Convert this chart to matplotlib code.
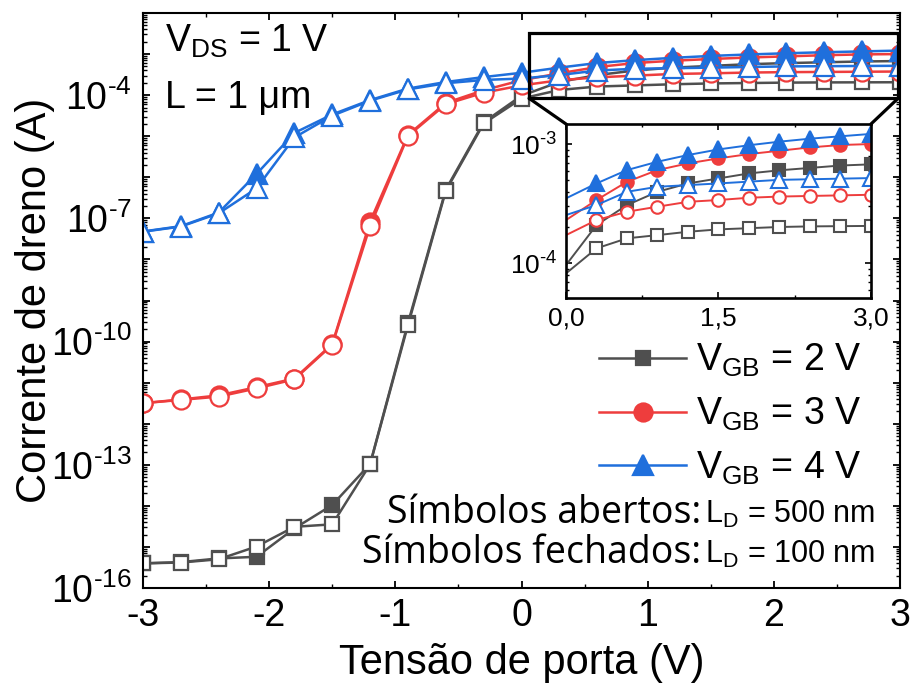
"""Curvas de transferência Id x Vg para três tensões de back-gate."""
import numpy as np
import matplotlib
matplotlib.use('Agg')
import matplotlib.pyplot as plt
import matplotlib.ticker as mticker
from matplotlib import font_manager
from matplotlib.patches import Rectangle, ConnectionPatch

# dados (log10 da corrente de dreno, A)
vg = [-3.0, -2.7, -2.4, -2.1, -1.8, -1.5, -1.2, -0.9, -0.6, -0.3, 0.0,
      0.3, 0.6, 0.9, 1.2, 1.5, 1.8, 2.1, 2.4, 2.7, 3.0]

log_id_vgb2_ld500 = [-15.40, -15.38, -15.30, -14.99, -14.51, -14.45, -12.99,
                     -9.60, -6.33, -4.69, -4.084, -3.874, -3.79, -3.763,
                     -3.735, -3.715, -3.705, -3.695, -3.69, -3.688, -3.686]
log_id_vgb2_ld100 = [-15.40, -15.37, -15.28, -15.24, -14.55, -13.98, -12.98,
                     -9.55, -6.30, -4.66, -4.014, -3.679, -3.511, -3.40,
                     -3.33, -3.288, -3.246, -3.22, -3.20, -3.18, -3.17]
log_id_vgb3_ld500 = [-11.50, -11.42, -11.34, -11.14, -10.92, -10.08, -7.19,
                     -4.995, -4.22, -3.94, -3.763, -3.637, -3.567, -3.525,
                     -3.484, -3.469, -3.45, -3.44, -3.435, -3.43, -3.425]
log_id_vgb3_ld100 = [-11.50, -11.41, -11.31, -11.11, -10.90, -10.06, -7.08,
                     -4.97, -4.19, -3.88, -3.637, -3.469, -3.316, -3.218,
                     -3.162, -3.12, -3.084, -3.056, -3.028, -3.008, -3.0]
log_id_vgb4_ld500 = [-7.325, -7.20, -6.877, -6.27, -5.03, -4.50, -4.135,
                     -3.86, -3.71, -3.63, -3.595, -3.511, -3.40, -3.358,
                     -3.344, -3.33, -3.315, -3.30, -3.295, -3.29, -3.285]
log_id_vgb4_ld100 = [-7.32, -7.19, -6.86, -5.92, -4.92, -4.47, -4.12,
                     -3.84, -3.68, -3.56, -3.455, -3.33, -3.218, -3.148,
                     -3.092, -3.045, -3.01, -2.98, -2.955, -2.935, -2.915]

legend_labels = [r'V$_{\mathrm{GB}}$ = 2 V', r'V$_{\mathrm{GB}}$ = 3 V',
                 r'V$_{\mathrm{GB}}$ = 4 V']

C_GRAY = '#4f4f4f'
C_RED = '#ee3d3d'
C_BLUE = '#1f6fdc'

names = {f.name for f in font_manager.fontManager.ttflist}
NARROW = 'Liberation Sans Narrow' if 'Liberation Sans Narrow' in names else 'Liberation Sans'

plt.rcParams['font.family'] = ['Liberation Sans', 'DejaVu Sans']
plt.rcParams['mathtext.fontset'] = 'custom'
plt.rcParams['mathtext.rm'] = 'Liberation Sans'
plt.rcParams['mathtext.it'] = 'Liberation Sans:italic'
plt.rcParams['mathtext.bf'] = 'Liberation Sans:bold'
plt.rcParams['mathtext.sf'] = NARROW
plt.rcParams['axes.unicode_minus'] = False

HY = '\u2010'  # hífen curto nos expoentes, como no original


def pow_label(e, sf=False):
    s = '10^{%s%d}' % (HY, abs(e)) if e < 0 else '10^{%d}' % e
    return r'$\mathsf{%s}$' % s if sf else r'$%s$' % s


x = np.array(vg)
series = [
    (log_id_vgb2_ld100, C_GRAY, 's', True),
    (log_id_vgb3_ld100, C_RED, 'o', True),
    (log_id_vgb4_ld100, C_BLUE, '^', True),
    (log_id_vgb2_ld500, C_GRAY, 's', False),
    (log_id_vgb3_ld500, C_RED, 'o', False),
    (log_id_vgb4_ld500, C_BLUE, '^', False),
]
msize_main = {'s': 10, 'o': 13, '^': 14}
msize_in = {'s': 8, 'o': 9, '^': 11}

fig = plt.figure(figsize=(9.12, 6.86), dpi=100)
ax = fig.add_axes([143 / 912, 98 / 686, 757 / 912, 575 / 686])

handles = []
for vals, col, mk, filled in series:
    ln, = ax.plot(x, 10.0 ** np.array(vals), color=col, lw=1.8, marker=mk,
                  ms=msize_main[mk], mew=1.6, mec=col,
                  mfc=col if filled else 'white')
    if filled:
        handles.append(ln)

ax.set_yscale('log')
ax.set_xlim(-3, 3)
ax.set_ylim(1e-16, 1e-2)

ax.yaxis.set_major_locator(mticker.FixedLocator(10.0 ** np.arange(-16, -1)))
ax.yaxis.set_major_formatter(mticker.FuncFormatter(
    lambda v, p: pow_label(round(np.log10(v)), sf=True)
    if round(np.log10(v)) in (-4, -7, -10, -13, -16) else ''))
ax.yaxis.set_minor_locator(mticker.LogLocator(base=10, subs=np.arange(2, 10), numticks=100))
ax.yaxis.set_minor_formatter(mticker.NullFormatter())
ax.xaxis.set_major_locator(mticker.MultipleLocator(1))
ax.xaxis.set_minor_locator(mticker.MultipleLocator(0.5))

ax.tick_params(which='both', direction='in', top=True, right=True)
ax.tick_params(which='major', length=5, width=1.3, labelsize=27)
ax.tick_params(axis='y', which='major', pad=8)
ax.tick_params(axis='x', which='major', pad=7)
ax.tick_params(which='minor', length=2.8, width=1.0)
for lab in ax.get_xticklabels():
    lab.set_fontfamily(NARROW)
for sp in ax.spines.values():
    sp.set_linewidth(1.5)

ax.set_xlabel('Tensão de porta (V)', fontsize=30, fontfamily=NARROW, labelpad=7)
ax.set_ylabel('Corrente de dreno (A)', fontsize=30, fontfamily=NARROW, labelpad=-3)

ax.text(0.029, 0.932, r'V$_{\mathrm{DS}}$ = 1 V', transform=ax.transAxes,
        fontsize=27, va='baseline')
ax.text(0.029, 0.835, 'L = 1 μm', transform=ax.transAxes,
        fontsize=27, va='baseline')

ax.legend(handles=handles, labels=legend_labels, loc='upper left',
          bbox_to_anchor=(0.603, 0.428), frameon=False, fontsize=27,
          handlelength=2.3, handletextpad=0.27, labelspacing=0.44,
          borderpad=0, borderaxespad=0)

ax.text(0.737, 0.1137, 'Símbolos abertos:', transform=ax.transAxes,
        fontsize=27, fontfamily='Open Sans', ha='right', va='baseline')
ax.text(0.743, 0.1137, r'L$_{\mathrm{D}}$ = 500 nm', transform=ax.transAxes,
        fontsize=22, ha='left', va='baseline')
ax.text(0.737, 0.0435, 'Símbolos fechados:', transform=ax.transAxes,
        fontsize=27, fontfamily='Open Sans', ha='right', va='baseline')
ax.text(0.743, 0.0435, r'L$_{\mathrm{D}}$ = 100 nm', transform=ax.transAxes,
        fontsize=22, ha='left', va='baseline')

# caixa de zoom
box_x0, box_x1 = 0.06, 2.985
box_y0, box_y1 = 10 ** -4.077, 10 ** -2.494
ax.add_patch(Rectangle((box_x0, box_y0), box_x1 - box_x0, box_y1 - box_y0,
                       fill=False, ec='black', lw=2.3, zorder=6, clip_on=False))

# inset
axin = fig.add_axes([566 / 912, 388 / 686, 305 / 912, 174 / 686])
axin.set_zorder(10)
for vals, col, mk, filled in series:
    axin.plot(x[10:], 10.0 ** np.array(vals[10:]), color=col, lw=1.4,
              marker=mk, ms=msize_in[mk], mew=1.5, mec=col,
              mfc=col if filled else 'white', markevery=slice(1, None))
axin.set_yscale('log')
axin.set_xlim(0, 3.0)
axin.set_ylim(10 ** -4.29, 10 ** -2.832)
axin.xaxis.set_major_locator(mticker.FixedLocator([0, 1.5, 3.0]))
axin.xaxis.set_major_formatter(mticker.FixedFormatter(['0,0', '1,5', '3,0']))
axin.xaxis.set_minor_locator(mticker.FixedLocator([0.75, 2.25]))
axin.yaxis.set_major_locator(mticker.FixedLocator([1e-4, 1e-3]))
axin.yaxis.set_major_formatter(mticker.FixedFormatter([pow_label(-4), pow_label(-3)]))
axin.yaxis.set_minor_locator(mticker.LogLocator(base=10, subs=np.arange(2, 10), numticks=100))
axin.yaxis.set_minor_formatter(mticker.NullFormatter())
axin.tick_params(which='both', direction='in', top=True, right=True)
axin.tick_params(which='major', length=4, width=1.2, labelsize=19, pad=6)
axin.tick_params(which='minor', length=2.2, width=1.0)
for sp in axin.spines.values():
    sp.set_linewidth(1.9)

for xa, xb in [(box_x0, 0), (box_x1, 1)]:
    con = ConnectionPatch(xyA=(xa, box_y0), coordsA=ax.transData,
                          xyB=(xb, 1), coordsB=axin.transAxes,
                          color='black', lw=2.3)
    fig.add_artist(con)

fig.savefig('out.png', dpi=100)
